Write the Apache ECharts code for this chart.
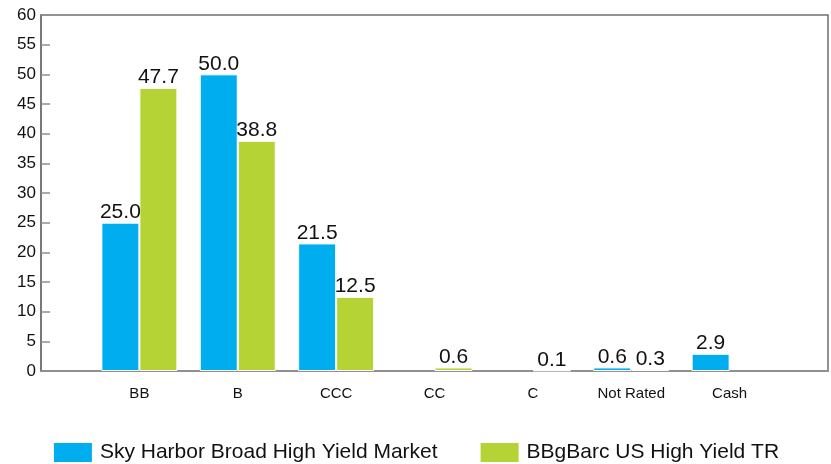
<!DOCTYPE html>
<html><head><meta charset="utf-8">
<script src="https://cdn.jsdelivr.net/npm/echarts@6/dist/echarts.min.js"></script>
<style>html,body{margin:0;padding:0;background:#fff}#c{width:831px;height:464px}</style>
</head><body><div id="c"></div>
<script>
const categories = ['', 'BB', 'B', 'CCC', 'CC', 'C', 'Not Rated', 'Cash', ''];
const skyHarbor = [null, 25.0, 50.0, 21.5, null, null, 0.6, 2.9, null];
const bbgBarc = [null, 47.7, 38.8, 12.5, 0.6, 0.1, 0.3, null, null];
const seriesNames = ['Sky Harbor Broad High Yield Market', 'BBgBarc US High Yield TR'];
const yTicks = {min: 0, max: 60, interval: 5};
const FONT = '"Liberation Sans", Arial, sans-serif';
const chart = echarts.init(document.getElementById('c'));
const labelOpt = {show: true, position: 'top', distance: 0, color: '#111', fontFamily: FONT, fontSize: 21,
  formatter: p => (p.value == null ? '' : p.value.toFixed(1))};
chart.setOption({
  animation: false,
  textStyle: {fontFamily: FONT},
  grid: {left: 41, right: 1, top: 15, bottom: 93, show: true, borderColor: '#707070', borderWidth: 1.5},
  legend: {top: 436, left: 'center', itemWidth: 40, itemHeight: 21, itemGap: 41, icon: 'rect',
    textStyle: {fontFamily: FONT, fontSize: 21, color: '#111', padding: [0, 0, 0, 2]}, data: seriesNames},
  xAxis: {type: 'category', data: categories, boundaryGap: false,
    axisLine: {lineStyle: {color: '#909090', width: 1.5}}, axisTick: {show: false},
    axisLabel: {color: '#111', fontFamily: FONT, fontSize: 15, margin: 15, interval: 0}},
  yAxis: {type: 'value', min: yTicks.min, max: yTicks.max, interval: yTicks.interval,
    axisLine: {show: true, lineStyle: {color: '#707070', width: 1.5}},
    axisTick: {show: true, inside: true, length: 9, lineStyle: {color: '#909090', width: 1.5}},
    splitLine: {show: false},
    axisLabel: {color: '#111', fontFamily: FONT, fontSize: 17, margin: 5}},
  series: [
    {name: seriesNames[0], type: 'bar', data: skyHarbor, barWidth: 38, barGap: '0%',
     itemStyle: {color: '#00AEEF', borderColor: '#fff', borderWidth: 1}, label: labelOpt},
    {name: seriesNames[1], type: 'bar', data: bbgBarc, barWidth: 38,
     itemStyle: {color: '#B5D334', borderColor: '#fff', borderWidth: 1}, label: labelOpt}
  ]
});
</script></body></html>
